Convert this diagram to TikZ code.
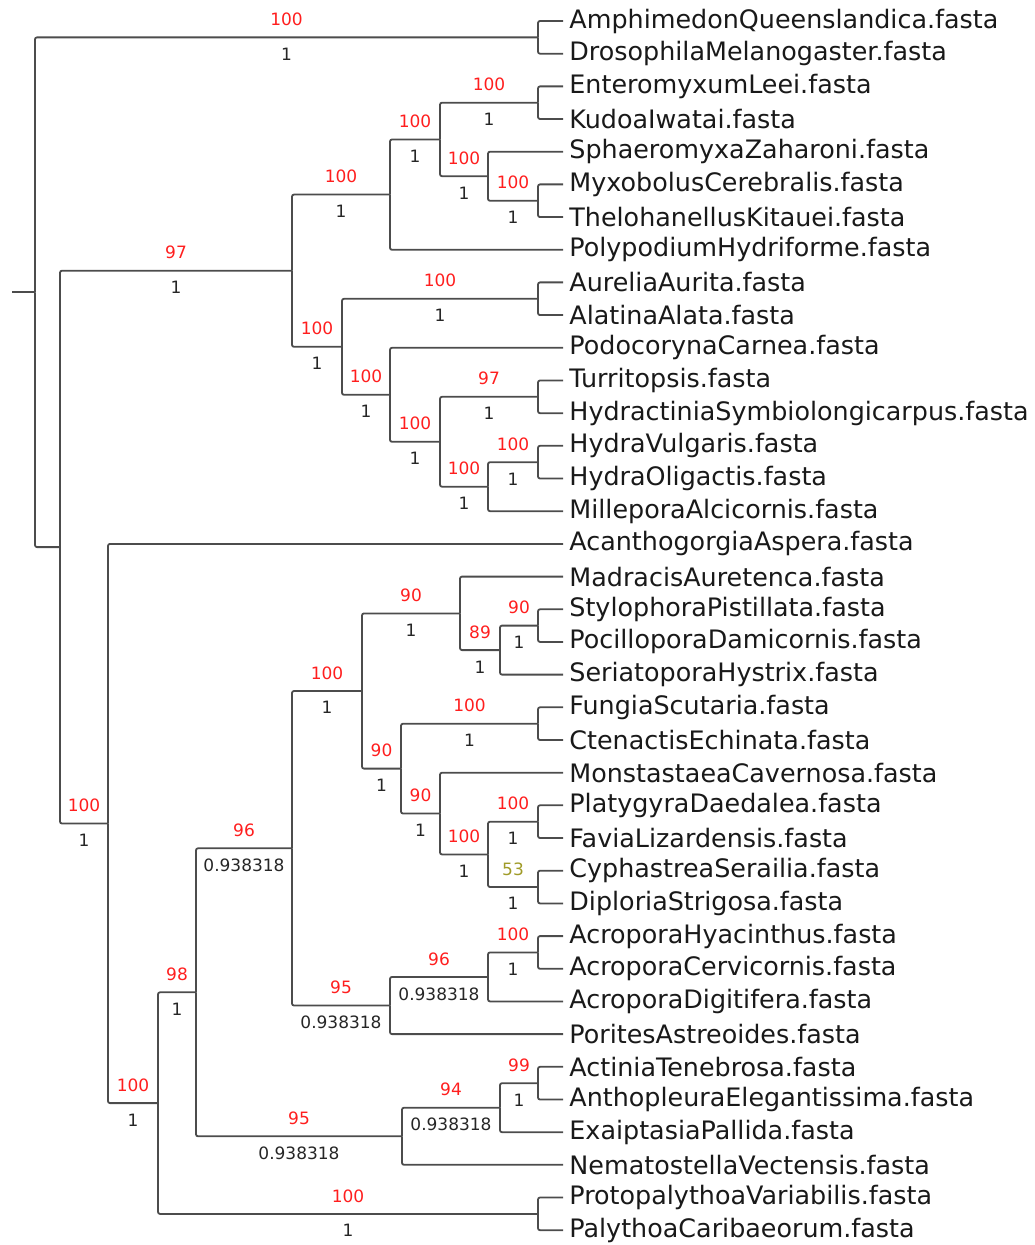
\documentclass[tikz,border=0pt]{standalone}
\usepackage{fontspec}
\setmainfont{DejaVu Sans}
\usepackage{xcolor}
\definecolor{bootred}{RGB}{255,30,30}
\definecolor{bootolive}{RGB}{160,155,40}

\begin{document}
\begin{tikzpicture}[
x=0.5pt, y=-0.5pt,
branch/.style={draw=black!70,
line width=0.9pt,
rounded corners=1pt},
leaf/.style={anchor=west,
inner xsep=3pt,
inner ysep=0pt,
font=\fontsize{12.7}{14}\selectfont,
text=black!90},
boot/.style={pos=0.75, above=2pt, font=\fontsize{8.5}{10}\selectfont, text=bootred},
supp/.style={pos=0.75, below=1.5pt, font=\fontsize{8.5}{10}\selectfont, text=black!85}
]
\useasboundingbox (0,0) rectangle (1034,1245);

\node[leaf] (amph) at (563,21) {AmphimedonQueenslandica.fasta};
\node[leaf] (dros) at (563,53.7) {DrosophilaMelanogaster.fasta};
\node[leaf] (ente) at (563,86.4) {EnteromyxumLeei.fasta};
\node[leaf] (kudo) at (563,119) {KudoaIwatai.fasta};
\node[leaf] (spha) at (563,151.7) {SphaeromyxaZaharoni.fasta};
\node[leaf] (myxo) at (563,184.4) {MyxobolusCerebralis.fasta};
\node[leaf] (thel) at (563,217.1) {ThelohanellusKitauei.fasta};
\node[leaf] (poly) at (563,249.8) {PolypodiumHydriforme.fasta};
\node[leaf] (aure) at (563,282.4) {AureliaAurita.fasta};
\node[leaf] (alat) at (563,315.1) {AlatinaAlata.fasta};
\node[leaf] (podo) at (563,347.8) {PodocorynaCarnea.fasta};
\node[leaf] (turr) at (563,380.5) {Turritopsis.fasta};
\node[leaf] (hydc) at (563,413.2) {HydractiniaSymbiolongicarpus.fasta};
\node[leaf] (hydv) at (563,445.8) {HydraVulgaris.fasta};
\node[leaf] (hydo) at (563,478.5) {HydraOligactis.fasta};
\node[leaf] (mill) at (563,511.2) {MilleporaAlcicornis.fasta};
\node[leaf] (acan) at (563,543.9) {AcanthogorgiaAspera.fasta};
\node[leaf] (madr) at (563,576.6) {MadracisAuretenca.fasta};
\node[leaf] (styl) at (563,609.3) {StylophoraPistillata.fasta};
\node[leaf] (poci) at (563,641.9) {PocilloporaDamicornis.fasta};
\node[leaf] (seri) at (563,674.6) {SeriatoporaHystrix.fasta};
\node[leaf] (fung) at (563,707.3) {FungiaScutaria.fasta};
\node[leaf] (cten) at (563,740) {CtenactisEchinata.fasta};
\node[leaf] (mons) at (563,772.7) {MonstastaeaCavernosa.fasta};
\node[leaf] (plat) at (563,805.3) {PlatygyraDaedalea.fasta};
\node[leaf] (favi) at (563,838) {FaviaLizardensis.fasta};
\node[leaf] (cyph) at (563,870.7) {CyphastreaSerailia.fasta};
\node[leaf] (dipl) at (563,903.4) {DiploriaStrigosa.fasta};
\node[leaf] (achy) at (563,936.1) {AcroporaHyacinthus.fasta};
\node[leaf] (acce) at (563,968.8) {AcroporaCervicornis.fasta};
\node[leaf] (acdi) at (563,1001.4) {AcroporaDigitifera.fasta};
\node[leaf] (pori) at (563,1034.1) {PoritesAstreoides.fasta};
\node[leaf] (acti) at (563,1066.8) {ActiniaTenebrosa.fasta};
\node[leaf] (anth) at (563,1099.5) {AnthopleuraElegantissima.fasta};
\node[leaf] (exai) at (563,1132.2) {ExaiptasiaPallida.fasta};
\node[leaf] (nema) at (563,1164.8) {NematostellaVectensis.fasta};
\node[leaf] (prot) at (563,1197.5) {ProtopalythoaVariabilis.fasta};
\node[leaf] (paly) at (563,1230.2) {PalythoaCaribaeorum.fasta};

\coordinate (stub) at (12,292.3);
\coordinate (root) at (35,292.3);
\coordinate (pAD) at (538,37.4);
\coordinate (nB) at (60,547.1);
\coordinate (nCni) at (292,270.7);
\coordinate (nMyxP) at (390,194.6);
\coordinate (nMyx) at (440,139.5);
\coordinate (pEK) at (538,102.7);
\coordinate (nSM) at (488,176.2);
\coordinate (pMT) at (538,200.8);
\coordinate (nMed) at (342,346.8);
\coordinate (pAA) at (538,298.8);
\coordinate (nPod) at (390,394.8);
\coordinate (nHyd) at (440,441.8);
\coordinate (pTH) at (538,396.8);
\coordinate (nHO) at (488,486.7);
\coordinate (pHH) at (538,462.2);
\coordinate (nAnt) at (108,823.5);
\coordinate (nZoa) at (158,1103.1);
\coordinate (pPP) at (538,1213.9);
\coordinate (nHex) at (196,992.3);
\coordinate (nScl) at (292,848.3);
\coordinate (nRob) at (362,691);
\coordinate (nMad) at (460,613.4);
\coordinate (nPoc) at (500,650.1);
\coordinate (pSP) at (538,625.6);
\coordinate (nFun) at (401,768.6);
\coordinate (pFC) at (538,723.7);
\coordinate (nMon) at (440,813.5);
\coordinate (nFav) at (488,854.4);
\coordinate (pPF) at (538,821.7);
\coordinate (pCD) at (538,887);
\coordinate (nPor) at (390,1005.5);
\coordinate (nAcro) at (488,976.9);
\coordinate (pAC) at (538,952.4);
\coordinate (nNem) at (402,1136.3);
\coordinate (nExa) at (500,1107.7);
\coordinate (pAAn) at (538,1083.2);

\draw[branch] (stub) -- (root);
\draw[branch] (root) |- node[boot]{100} node[supp]{1} (pAD);
\draw[branch] (root) |- (nB);
\draw[branch] (pAD) |- (amph);
\draw[branch] (pAD) |- (dros);

\draw[branch] (nB) |- node[boot]{97} node[supp]{1} (nCni);
\draw[branch] (nB) |- node[boot]{100} node[supp]{1} (nAnt);
\draw[branch] (nCni) |- node[boot]{100} node[supp]{1} (nMyxP);
\draw[branch] (nCni) |- node[boot]{100} node[supp]{1} (nMed);
\draw[branch] (nMyxP) |- node[boot]{100} node[supp]{1} (nMyx);
\draw[branch] (nMyxP) |- (poly);
\draw[branch] (nMyx) |- node[boot]{100} node[supp]{1} (pEK);
\draw[branch] (nMyx) |- node[boot]{100} node[supp]{1} (nSM);
\draw[branch] (pEK) |- (ente);
\draw[branch] (pEK) |- (kudo);
\draw[branch] (nSM) |- (spha);
\draw[branch] (nSM) |- node[boot]{100} node[supp]{1} (pMT);
\draw[branch] (pMT) |- (myxo);
\draw[branch] (pMT) |- (thel);

\draw[branch] (nMed) |- node[boot]{100} node[supp]{1} (pAA);
\draw[branch] (nMed) |- node[boot]{100} node[supp]{1} (nPod);
\draw[branch] (pAA) |- (aure);
\draw[branch] (pAA) |- (alat);
\draw[branch] (nPod) |- (podo);
\draw[branch] (nPod) |- node[boot]{100} node[supp]{1} (nHyd);
\draw[branch] (nHyd) |- node[boot]{97} node[supp]{1} (pTH);
\draw[branch] (nHyd) |- node[boot]{100} node[supp]{1} (nHO);
\draw[branch] (pTH) |- (turr);
\draw[branch] (pTH) |- (hydc);
\draw[branch] (nHO) |- node[boot]{100} node[supp]{1} (pHH);
\draw[branch] (nHO) |- (mill);
\draw[branch] (pHH) |- (hydv);
\draw[branch] (pHH) |- (hydo);

\draw[branch] (nAnt) |- (acan);
\draw[branch] (nAnt) |- node[boot]{100} node[supp]{1} (nZoa);
\draw[branch] (nZoa) |- node[boot]{98} node[supp]{1} (nHex);
\draw[branch] (nZoa) |- node[boot]{100} node[supp]{1} (pPP);
\draw[branch] (pPP) |- (prot);
\draw[branch] (pPP) |- (paly);
\draw[branch] (nHex) |- node[boot]{96} node[supp]{0.938318} (nScl);
\draw[branch] (nHex) |- node[boot]{95} node[supp]{0.938318} (nNem);

\draw[branch] (nScl) |- node[boot]{100} node[supp]{1} (nRob);
\draw[branch] (nScl) |- node[boot]{95} node[supp]{0.938318} (nPor);
\draw[branch] (nRob) |- node[boot]{90} node[supp]{1} (nMad);
\draw[branch] (nRob) |- node[boot]{90} node[supp]{1} (nFun);
\draw[branch] (nMad) |- (madr);
\draw[branch] (nMad) |- node[boot]{89} node[supp]{1} (nPoc);
\draw[branch] (nPoc) |- node[boot]{90} node[supp]{1} (pSP);
\draw[branch] (nPoc) |- (seri);
\draw[branch] (pSP) |- (styl);
\draw[branch] (pSP) |- (poci);
\draw[branch] (nFun) |- node[boot]{100} node[supp]{1} (pFC);
\draw[branch] (nFun) |- node[boot]{90} node[supp]{1} (nMon);
\draw[branch] (pFC) |- (fung);
\draw[branch] (pFC) |- (cten);
\draw[branch] (nMon) |- (mons);
\draw[branch] (nMon) |- node[boot]{100} node[supp]{1} (nFav);
\draw[branch] (nFav) |- node[boot]{100} node[supp]{1} (pPF);
\draw[branch] (nFav) |- node[boot, text=bootolive]{53} node[supp]{1} (pCD);
\draw[branch] (pPF) |- (plat);
\draw[branch] (pPF) |- (favi);
\draw[branch] (pCD) |- (cyph);
\draw[branch] (pCD) |- (dipl);

\draw[branch] (nPor) |- node[boot]{96} node[supp]{0.938318} (nAcro);
\draw[branch] (nPor) |- (pori);
\draw[branch] (nAcro) |- node[boot]{100} node[supp]{1} (pAC);
\draw[branch] (nAcro) |- (acdi);
\draw[branch] (pAC) |- (achy);
\draw[branch] (pAC) |- (acce);
\draw[branch] (nNem) |- node[boot]{94} node[supp]{0.938318} (nExa);
\draw[branch] (nNem) |- (nema);
\draw[branch] (nExa) |- node[boot]{99} node[supp]{1} (pAAn);
\draw[branch] (nExa) |- (exai);
\draw[branch] (pAAn) |- (acti);
\draw[branch] (pAAn) |- (anth);

\end{tikzpicture}
\end{document}
